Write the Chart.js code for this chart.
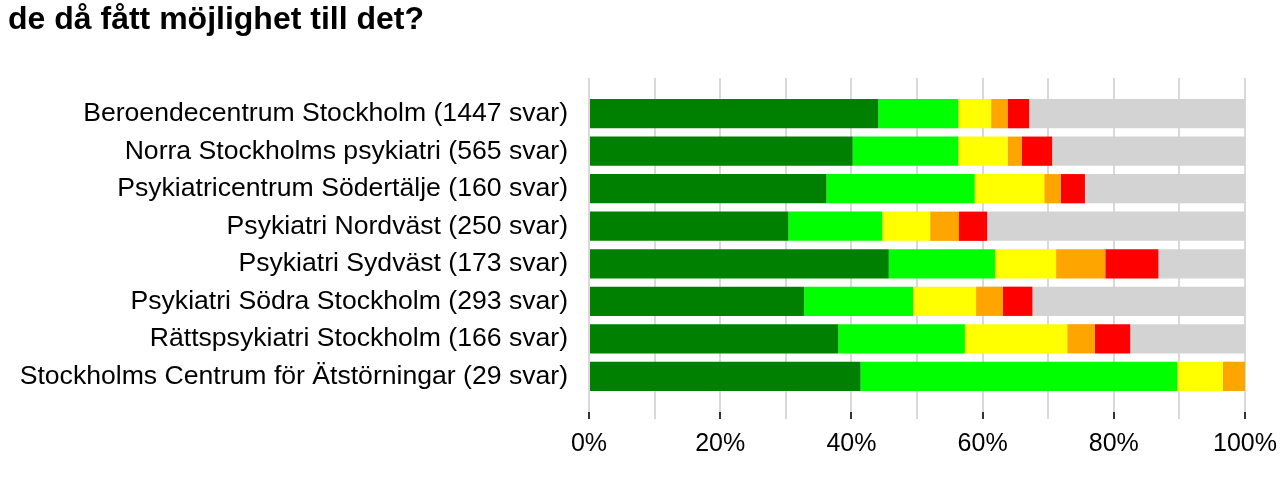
<!DOCTYPE html>
<html>
<head>
<meta charset="utf-8">
<script src="https://cdn.jsdelivr.net/npm/chart.js@4/dist/chart.umd.min.js"></script>
<style>
    body { margin: 0; background: #fff; }
</style>
</head>
<body>
<canvas id="chart1" width="1281" height="495"></canvas>
<script>

const units = [
    'Beroendecentrum Stockholm (1447 svar)',
    'Norra Stockholms psykiatri (565 svar)',
    'Psykiatricentrum Södertälje (160 svar)',
    'Psykiatri Nordväst (250 svar)',
    'Psykiatri Sydväst (173 svar)',
    'Psykiatri Södra Stockholm (293 svar)',
    'Rättspsykiatri Stockholm (166 svar)',
    'Stockholms Centrum för Ätstörningar (29 svar)'
]

// andel svar i procent, per enhet
const helt = [44.1, 40.2, 36.2, 30.4, 45.7, 32.8, 38.0, 41.4]
const delvis = [12.2, 16.1, 22.6, 14.3, 16.2, 16.6, 19.3, 48.3]
const litegrann = [5.0, 7.5, 10.6, 7.3, 9.3, 9.6, 15.6, 6.9]
const nej = [2.5, 2.2, 2.5, 4.4, 7.5, 4.1, 4.2, 3.4]
const nejInte = [3.3, 4.6, 3.7, 4.3, 8.1, 4.5, 5.4, 0]
const vetEj = [32.9, 29.4, 24.4, 39.3, 13.2, 32.4, 17.5, 0]

const xTicks = [0, 20, 40, 60, 80, 100]

const colors = ['#008000', '#00ff00', '#ffff00', '#ffa500', '#ff0000', '#d3d3d3']

printChart()


function printChart() {

    const series = [
        { label: 'Ja, helt och hållet', values: helt },
        { label: 'Ja, delvis', values: delvis },
        { label: 'Ja, lite', values: litegrann },
        { label: 'Nej, inte alls', values: nej },
        { label: 'Nej, ville inte', values: nejInte },
        { label: 'Vet ej / ej aktuellt', values: vetEj }
    ]

    const data = {
        datasets: series.map((s, i) => ({
            label: s.label,
            data: s.values.map((v, j) => ({ x: v, y: j })),
            backgroundColor: colors[i],
            borderWidth: 0,
            barPercentage: 0.78,
            categoryPercentage: 1
        }))
    }

    const options = {
        indexAxis: 'y',
        responsive: false,
        animation: false,
        layout: {
            padding: { left: 8, right: 36, top: 0, bottom: 26 }
        },
        plugins: {
            legend: { display: false },
            tooltip: { enabled: false },
            title: {
                display: true,
                text: 'de då fått möjlighet till det?',
                align: 'start',
                color: '#000',
                font: { family: 'Liberation Sans', size: 32, weight: 'bold' },
                padding: { top: 1, bottom: 38.6 }
            }
        },
        scales: {
            x: {
                stacked: true,
                min: 0,
                max: 100,
                border: { display: false },
                grid: {
                    color: '#d9d9d9',
                    lineWidth: 2,
                    tickLength: 7,
                    tickColor: ctx => xTicks.includes(ctx.tick.value) ? '#333' : '#d9d9d9'
                },
                afterFit: scale => {
                    scale.paddingLeft = 0
                    scale.paddingRight = 0
                },
                ticks: {
                    stepSize: 10,
                    padding: 10,
                    maxRotation: 0,
                    minRotation: 0,
                    autoSkip: false,
                    color: '#000',
                    font: { family: 'Liberation Sans', size: 25 },
                    callback: v => xTicks.includes(v) ? v + '%' : ''
                }
            },
            y: {
                type: 'linear',
                stacked: true,
                reverse: true,
                offset: false,
                min: -0.95,
                max: units.length - 0.05,
                border: { display: false },
                grid: { display: false, offset: false },
                afterBuildTicks: scale => {
                    scale.ticks = units.map((u, i) => ({ value: i }))
                },
                afterFit: scale => {
                    scale.width = 581
                },
                ticks: {
                    padding: 13,
                    color: '#000',
                    font: { family: 'Liberation Sans', size: 26.6 },
                    callback: v => units[v]
                }
            }
        }
    }

    new Chart('chart1', { type: 'bar', data, options })
}
</script>
</body>
</html>
